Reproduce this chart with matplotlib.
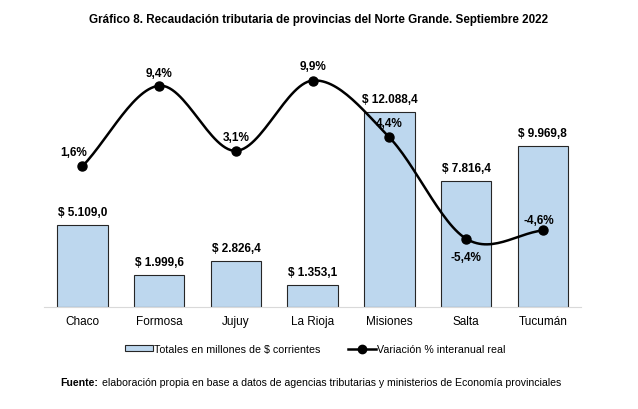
import matplotlib
matplotlib.use("Agg")
import matplotlib.pyplot as plt
import numpy as np
from matplotlib.patches import Patch
from matplotlib.lines import Line2D

plt.rcParams["font.family"] = ["Liberation Sans", "DejaVu Sans"]

provincias = ["Chaco", "Formosa", "Jujuy", "La Rioja", "Misiones", "Salta", "Tucumán"]
totales = [5109.0, 1999.6, 2826.4, 1353.1, 12088.4, 7816.4, 9969.8]
variacion = [1.6, 9.4, 3.1, 9.9, 4.4, -5.4, -4.6]
etiquetas_totales = ["$ 5.109,0", "$ 1.999,6", "$ 2.826,4", "$ 1.353,1",
                     "$ 12.088,4", "$ 7.816,4", "$ 9.969,8"]
etiquetas_var = ["1,6%", "9,4%", "3,1%", "9,9%", "4,4%", "-5,4%", "-4,6%"]


def smooth(x, y, n=30):
    # Catmull-Rom curve through the points (like a spreadsheet "smoothed line")
    x = np.asarray(x, float)
    y = np.asarray(y, float)
    px = np.concatenate([[2 * x[0] - x[1]], x, [2 * x[-1] - x[-2]]])
    py = np.concatenate([[2 * y[0] - y[1]], y, [2 * y[-1] - y[-2]]])
    xs, ys = [], []
    t = np.linspace(0, 1, n)
    for i in range(1, len(px) - 2):
        for p, out in ((px, xs), (py, ys)):
            p0, p1, p2, p3 = p[i - 1], p[i], p[i + 1], p[i + 2]
            out.append(0.5 * (2 * p1 + (-p0 + p2) * t
                              + (2 * p0 - 5 * p1 + 4 * p2 - p3) * t ** 2
                              + (-p0 + 3 * p1 - 3 * p2 + p3) * t ** 3))
    return np.concatenate(xs), np.concatenate(ys)


fig = plt.figure(figsize=(6.38, 4.10), dpi=100)
ax = fig.add_axes([0.069, 0.249, 0.842, 0.605])
x = np.arange(len(provincias))

ax.bar(x, totales, width=0.66, color="#BDD7EE", edgecolor="#262626", linewidth=0.8, zorder=2)
ax.set_xlim(-0.5, len(provincias) - 0.5)
ax.set_ylim(0, 15400)
for xi, v, lab in zip(x, totales, etiquetas_totales):
    ax.annotate(lab, (xi, v), xytext=(0, 5), textcoords="offset points",
                ha="center", va="bottom", fontsize=8.5, fontweight="bold")

for s in ["top", "right", "left"]:
    ax.spines[s].set_visible(False)
ax.spines["bottom"].set_color("#D9D9D9")
ax.set_yticks([])
ax.set_xticks(x)
ax.set_xticklabels(provincias, fontsize=8.5)
ax.tick_params(axis="x", length=0, pad=6)

ax2 = ax.twinx()
ax2.set_ylim(-12, 12)
ax2.axis("off")
sx, sy = smooth(x, variacion)
ax2.plot(sx, sy, color="black", lw=1.8, zorder=3)
ax2.plot(x, variacion, "o", color="black", ms=6.5, zorder=4)

offsets = [(-6, 6), (0, 5), (0, 6), (0, 6), (0, 6), (0, -9), (-3, 3)]
for xi, v, lab, (dx, dy) in zip(x, variacion, etiquetas_var, offsets):
    ax2.annotate(lab, (xi, v), xytext=(dx, dy), textcoords="offset points",
                 ha="center", va="bottom" if dy > 0 else "top",
                 fontsize=8.5, fontweight="bold")

fig.text(0.500, 0.951, "Gráfico 8. Recaudación tributaria de provincias del Norte Grande. Septiembre 2022",
         ha="center", va="center", fontsize=8.35, fontweight="bold")

handles = [Patch(facecolor="#BDD7EE", edgecolor="#262626", linewidth=0.8),
           Line2D([0], [0], color="black", lw=1.8, marker="o", ms=6)]
fig.legend(handles, ["Totales en millones de $ corrientes", "Variación % interanual real"],
           loc="center", bbox_to_anchor=(0.494, 0.146), ncol=2, frameon=False,
           fontsize=7.7, handlelength=2.6, handleheight=0.5, handletextpad=0.1,
           columnspacing=2.6)

fig.text(0.094, 0.066, "Fuente:", ha="left", va="center", fontsize=7.6, fontweight="bold")
fig.text(0.160, 0.066, "elaboración propia en base a datos de agencias tributarias y ministerios de Economía provinciales",
         ha="left", va="center", fontsize=7.6)

fig.savefig("out.png", dpi=100)
